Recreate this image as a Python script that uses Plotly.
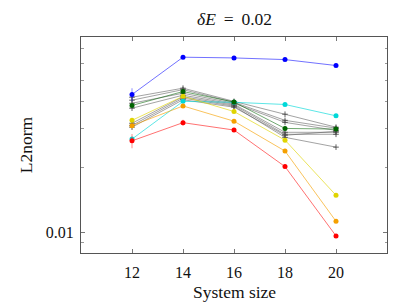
import plotly.graph_objects as go

sizes = [12, 14, 16, 18, 20]

blue = [0.0431, 0.0640, 0.0635, 0.0624, 0.0586]
red = [0.0264, 0.0320, 0.0296, 0.0201, 0.00965]
orange = [0.0310, 0.0382, 0.0325, 0.0237, 0.01127]
yellow = [0.0328, 0.0423, 0.0360, 0.0266, 0.01484]
cyan = [0.0269, 0.0401, 0.0397, 0.0388, 0.0344]
green = [0.0384, 0.0445, 0.0398, 0.0301, 0.0299]

gray_series = [
    [0.0419, 0.0461, 0.0401, 0.0350, 0.0305],
    [0.0406, 0.0454, 0.0397, 0.0328, 0.0302],
    [0.0393, 0.0437, 0.0393, 0.0321, 0.0295],
    [0.0373, 0.0428, 0.0389, 0.0289, 0.0289],
    [0.0318, 0.0421, 0.0385, 0.0283, 0.0283],
    [0.0311, 0.0415, 0.0381, 0.0274, 0.0247],
    [0.0305, 0.0408, 0.0377, 0.0280, 0.0292],
]

blue_err = [0.003, 0, 0, 0, 0]
red_err = [0.002, 0.001, 0, 0, 0]

fig = go.Figure()

for g in gray_series:
    fig.add_trace(go.Scatter(
        x=sizes, y=g, mode="lines+markers",
        line=dict(color="rgba(90,90,90,0.7)", width=0.8),
        marker=dict(symbol="cross-thin", size=4, color="rgba(70,70,70,0.85)",
                    line=dict(width=1, color="rgba(70,70,70,0.85)")),
        showlegend=False))

colored = [
    (cyan, "#00d8d8", "rgba(0,216,216,0.8)", None),
    (yellow, "#e0d400", "rgba(224,212,0,0.8)", None),
    (orange, "#f5a000", "rgba(245,160,0,0.8)", None),
    (red, "#ff0000", "rgba(255,0,0,0.7)", red_err),
    (green, "#006400", "rgba(0,100,0,0.7)", None),
    (blue, "#0000ff", "rgba(0,0,255,0.7)", blue_err),
]
for vals, mc, lc, err in colored:
    kw = {}
    if err is not None:
        kw["error_y"] = dict(type="data", array=err, visible=True,
                             color=lc.replace("0.7)", "0.3)"), thickness=1.5, width=0)
    fig.add_trace(go.Scatter(
        x=sizes, y=vals, mode="lines+markers",
        line=dict(color=lc, width=0.8),
        marker=dict(symbol="circle", size=5, color=mc),
        showlegend=False, **kw))

font = dict(family="Liberation Serif, DejaVu Serif, serif", color="#111")

fig.update_layout(
    width=391, height=295,
    margin=dict(l=72.7, r=12.3, t=28.7, b=50.3),
    paper_bgcolor="white", plot_bgcolor="white",
    font=dict(size=16, **font),
    annotations=[
        dict(text="<i>δE</i>\u2009 = \u20090.02", xref="paper", yref="paper",
             x=0.5, y=1, xanchor="center", yanchor="middle", yshift=18,
             showarrow=False, font=dict(size=17.5, **font)),
        dict(text="System size", xref="paper", yref="paper",
             x=0.5, y=0, xanchor="center", yanchor="middle", yshift=-39,
             showarrow=False, font=dict(size=17.5, **font)),
        dict(text="L2norm", xref="paper", yref="paper", textangle=-90,
             x=0, y=0.5, xanchor="center", yanchor="middle", xshift=-54.7,
             showarrow=False, font=dict(size=17.5, **font)),
    ],
)

fig.update_xaxes(
    range=[10, 22], tickvals=sizes, ticktext=[str(s) for s in sizes],
    ticks="inside", ticklen=4, tickcolor="#777", showline=True, linecolor="#555",
    linewidth=1, mirror="ticks", showgrid=False, zeroline=False,
    ticklabelstandoff=5, tickfont=dict(size=16, **font),
)
fig.update_yaxes(
    type="log", range=[-2.094, -1.101], tickvals=[0.01], ticktext=["0.01"],
    ticks="inside", ticklen=4, tickcolor="#777", showline=True, linecolor="#555",
    linewidth=1, mirror="ticks", showgrid=False, zeroline=False,
    minor=dict(ticks="inside", ticklen=2.5, tickcolor="#999",
               tickvals=[0.009, 0.02, 0.03, 0.04, 0.05, 0.06, 0.07]),
    ticklabelstandoff=3, tickfont=dict(size=16, **font),
)

fig.write_html("out.html")
